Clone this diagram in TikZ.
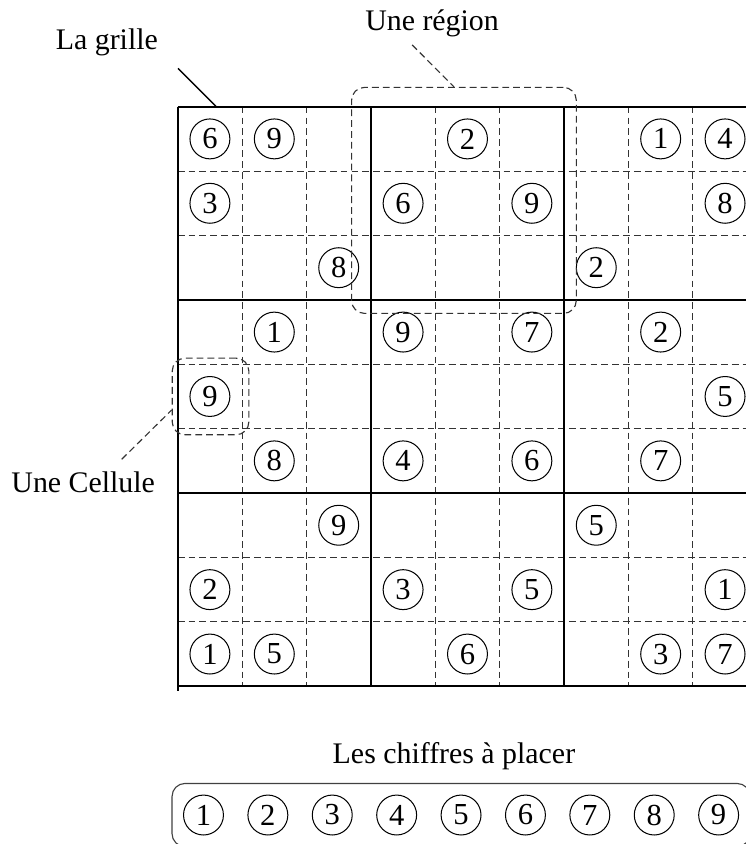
\documentclass[tikz,border=0pt]{standalone}
\usepackage{fontspec}
\setmainfont{Liberation Serif}
\begin{document}
\begin{tikzpicture}[
    traitfort/.style={line width=0.9pt},
    traitfin/.style={black!80, line width=0.5pt, dash pattern=on 3pt off 1.8pt},
    chiffre/.style={draw, circle, line width=0.45pt, minimum size=0.62cm, inner sep=0pt, font=\fontsize{13.5}{16}\selectfont},
    legende/.style={anchor=base, inner sep=0pt, font=\fontsize{13.2}{16}\selectfont},
    zone/.style={draw, black!80, line width=0.5pt, dash pattern=on 3pt off 1.8pt, rounded corners=0.2cm, inner sep=0pt},
    renvoi/.style={black!80, line width=0.5pt, dash pattern=on 3pt off 1.8pt}
]
    \useasboundingbox (-2.76,1.657) rectangle (8.82,-11.45);

    % Grille
    \node[minimum width=9cm, minimum height=9cm, inner sep=0pt] (grille) at (4.5,-4.5) {};
    \foreach \i in {1,2,4,5,7,8} {
        \draw[traitfin] (\i,0) -- (\i,-9);
        \draw[traitfin] (0,-\i) -- (9,-\i);
    }
    \foreach \i in {0,3,6,9} \draw[traitfort] (0,-\i) -- (9,-\i);
    \foreach \i in {3,6,9} \draw[traitfort] (\i,0) -- (\i,-9);
    \draw[traitfort] (0,0) -- (0,-9.08);

    % Chiffres de la grille
    \foreach \r/\c/\d in {0/0/6, 0/1/9, 0/4/2, 0/7/1, 0/8/4,
                          1/0/3, 1/3/6, 1/5/9, 1/8/8,
                          2/2/8, 2/6/2,
                          3/1/1, 3/3/9, 3/5/7, 3/7/2,
                          4/0/9, 4/8/5,
                          5/1/8, 5/3/4, 5/5/6, 5/7/7,
                          6/2/9, 6/6/5,
                          7/0/2, 7/3/3, 7/5/5, 7/8/1,
                          8/0/1, 8/1/5, 8/4/6, 8/7/3, 8/8/7}
        \node[chiffre] (d\r\c) at (\c+0.5,-\r-0.5) {\d};

    % Region et cellule
    \node[zone, minimum width=3.49cm, minimum height=3.51cm] (region) at (4.445,-1.455) {};
    \node[zone, minimum size=1.19cm] (cellule) at (0.51,-4.50) {};

    % Legendes
    \node[legende] (grillelbl) at (-1.10,0.891) {La grille};
    \node[legende] (regionlbl) at (3.95,1.19) {Une région};
    \node[legende] (cellulelbl) at (-1.468,-5.994) {Une Cellule};
    \node[legende] (chiffreslbl) at (4.29,-10.207) {Les chiffres à placer};

    % Renvois
    \coordinate (grillepied) at (0.005,0.595);
    \coordinate (regionpied) at (3.64,0.96);
    \coordinate (cellulepied) at (-0.87,-5.475);
    \draw[line width=0.6pt] (grillepied) -- ([xshift=0.6cm]grille.north west);
    \draw[renvoi] (regionpied) -- ([xshift=-0.155cm]region.north);
    \draw[renvoi] (cellulepied) -- ([yshift=-0.21cm]cellule.west);

    % Chiffres a placer
    \node[draw, black!75, line width=0.5pt, rounded corners=0.2cm, minimum width=8.976cm, minimum height=0.98cm, inner sep=0pt] (plateau) at (4.4,-11.0) {};
    \foreach \d in {1,...,9} \node[chiffre] (p\d) at (\d-0.6,-11.0) {\d};
\end{tikzpicture}
\end{document}
